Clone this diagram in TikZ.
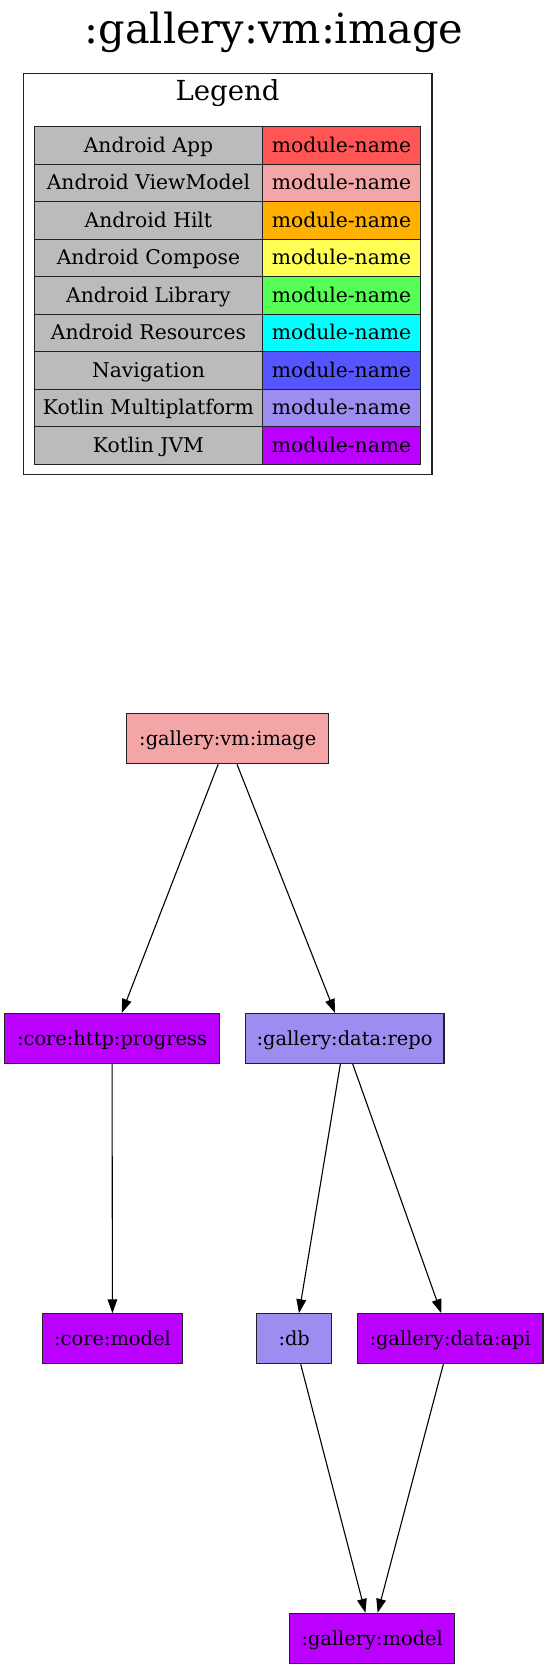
\documentclass[tikz,border=0pt]{standalone}
\usepackage{fontspec}
\setmainfont{DejaVu Serif}
\usetikzlibrary{arrows.meta}
\definecolor{appC}{HTML}{FF5555}
\definecolor{vmC}{HTML}{F4A6A6}
\definecolor{hiltC}{HTML}{FFB000}
\definecolor{composeC}{HTML}{FFFF55}
\definecolor{libC}{HTML}{55FF55}
\definecolor{resC}{HTML}{00FFFF}
\definecolor{navC}{HTML}{5555FF}
\definecolor{kmpC}{HTML}{9D8DF1}
\definecolor{jvmC}{HTML}{BB00FF}
\definecolor{grayC}{HTML}{BBBBBB}
\definecolor{lineC}{HTML}{222222}
\tikzset{
  mod/.style={draw=lineC, line width=1.1pt, minimum height=50pt, inner sep=0pt,
    font=\fontsize{19.4}{23}\selectfont, text height=18pt, text depth=4.6pt},
  cellL/.style={draw=lineC, line width=1.1pt, fill=grayC, minimum width=228.3pt, minimum height=37.5pt,
    inner sep=0pt, font=\fontsize{20.3}{24}\selectfont, text height=18.8pt, text depth=4.8pt},
  cellR/.style={draw=lineC, line width=1.1pt, minimum width=158.4pt, minimum height=37.5pt,
    inner sep=0pt, font=\fontsize{20.3}{24}\selectfont, text height=18.8pt, text depth=4.8pt},
  edge/.style={-{Triangle[length=13.9pt,width=9.7pt]}, line width=1.1pt, draw=black}
}
\begin{document}
\begin{tikzpicture}[x=1pt,y=-1pt]
\useasboundingbox (0,0) rectangle (548,1669);
% title
\node[anchor=base, font=\fontsize{41.5}{48}\selectfont, inner sep=0pt] (title) at (274,43.5) {:gallery:vm:image};
% legend
\node[draw=lineC, line width=1.1pt, minimum width=408.7pt, minimum height=401pt, inner sep=0pt] (legend) at (227.65,273.8) {};
\node[anchor=base, font=\fontsize{27.6}{32}\selectfont, inner sep=0pt] (legendtitle) at (227.6,101) {Legend};
\foreach \i/\lab/\col in {0/Android App/appC, 1/Android ViewModel/vmC, 2/Android Hilt/hiltC,
  3/Android Compose/composeC, 4/Android Library/libC, 5/Android Resources/resC,
  6/Navigation/navC, 7/Kotlin Multiplatform/kmpC, 8/Kotlin JVM/jvmC}{
  \node[cellL] (L\i) at (148.45,{145.45+37.5*\i}) {\lab};
  \node[cellR, fill=\col] (R\i) at (341.5,{145.45+37.5*\i}) {module-name};
}
% modules
\node[mod, fill=vmC, minimum width=201.8pt] (vm) at (227.8,738.7) {:gallery:vm:image};
\node[mod, fill=jvmC, minimum width=214.3pt] (prog) at (112.05,1038.5) {:core:http:progress};
\node[mod, fill=kmpC, minimum width=198.9pt] (repo) at (344.55,1038.5) {:gallery:data:repo};
\node[mod, fill=jvmC, minimum width=139.5pt] (cmodel) at (112.45,1338.7) {:core:model};
\node[mod, fill=kmpC, minimum width=75.2pt] (db) at (294.2,1338.7) {:db};
\node[mod, fill=jvmC, minimum width=185.7pt] (api) at (450.15,1338.7) {:gallery:data:api};
\node[mod, fill=jvmC, minimum width=165.4pt] (gmodel) at (372.2,1638.3) {:gallery:model};
% edges
\draw[edge] ([xshift=-9.6pt]vm.south) -- ([xshift=9.7pt]prog.north);
\draw[edge] ([xshift=9.2pt]vm.south) -- ([xshift=-9.5pt]repo.north);
\draw[edge] (prog.south) -- (cmodel.north);
\draw[edge] ([xshift=-4.2pt]repo.south) -- ([xshift=4.8pt]db.north);
\draw[edge] ([xshift=8.2pt]repo.south) -- ([xshift=-8.9pt]api.north);
\draw[edge] ([xshift=6.5pt]db.south) -- ([xshift=-6.8pt]gmodel.north);
\draw[edge] ([xshift=-6.8pt]api.south) -- ([xshift=5.4pt]gmodel.north);
\end{tikzpicture}
\end{document}
